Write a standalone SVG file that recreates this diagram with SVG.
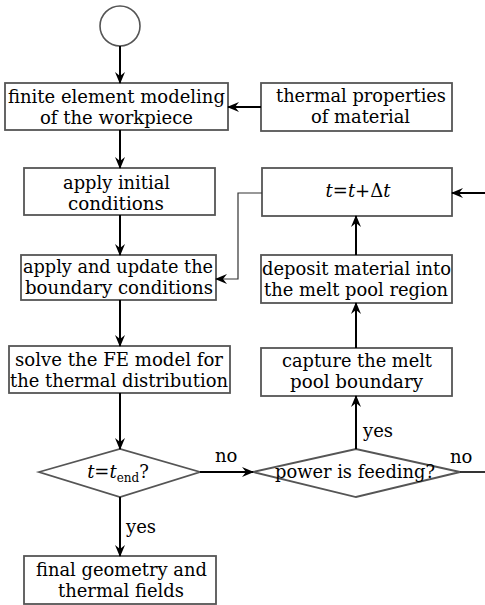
<svg xmlns="http://www.w3.org/2000/svg" width="485" height="605" viewBox="0 0 485 605">
<defs>
<marker id="ah" markerWidth="12" markerHeight="10" refX="11" refY="5" orient="auto" markerUnits="userSpaceOnUse">
<path d="M0,0 L12,5 L0,10 L4,5 z" fill="#000"/>
</marker>
</defs>
<style>
.box{fill:#fff;stroke:#555;stroke-width:1.8}
.t{font-family:"DejaVu Serif","Liberation Serif",serif;font-size:18px;fill:#000;text-anchor:middle}
.lbl{font-family:"DejaVu Serif","Liberation Serif",serif;font-size:18px;fill:#000}
.c{fill:none;stroke:#000;stroke-width:2;marker-end:url(#ah)}
.thin{fill:none;stroke:#333;stroke-width:1.2;marker-end:url(#ah)}
.plain{fill:none;stroke:#000;stroke-width:1.6}
</style>
<rect width="485" height="605" fill="#fff"/>
<g id="start"><circle cx="120" cy="26" r="20" fill="#fff" stroke="#555" stroke-width="1.6"/></g>
<g id="fem"><rect class="box" x="5" y="83" width="223" height="47"/>
<text class="t" x="116.5" y="102.5" textLength="217" lengthAdjust="spacingAndGlyphs">finite element modeling</text>
<text class="t" x="116.5" y="123.5" textLength="153" lengthAdjust="spacingAndGlyphs">of the workpiece</text></g>
<g id="thermal"><rect class="box" x="261" y="83" width="191" height="48"/>
<text class="t" x="361" y="102" textLength="170" lengthAdjust="spacingAndGlyphs">thermal properties</text>
<text class="t" x="360.5" y="123" textLength="99" lengthAdjust="spacingAndGlyphs">of material</text></g>
<g id="initial"><rect class="box" x="24" y="168" width="191" height="47"/>
<text class="t" x="116.5" y="188.5" textLength="107" lengthAdjust="spacingAndGlyphs">apply initial</text>
<text class="t" x="116" y="209.5" textLength="96" lengthAdjust="spacingAndGlyphs">conditions</text></g>
<g id="boundary"><rect class="box" x="21" y="255" width="195" height="45"/>
<text class="t" x="118" y="273" textLength="190" lengthAdjust="spacingAndGlyphs">apply and update the</text>
<text class="t" x="119" y="294" textLength="188" lengthAdjust="spacingAndGlyphs">boundary conditions</text></g>
<g id="solve"><rect class="box" x="9" y="346" width="221" height="47"/>
<text class="t" x="119" y="365.5" textLength="208" lengthAdjust="spacingAndGlyphs">solve the FE model for</text>
<text class="t" x="119" y="386.5" textLength="218" lengthAdjust="spacingAndGlyphs">the thermal distribution</text></g>
<g id="tend"><polygon class="box" points="39,472 120,449 200,472 120,497"/>
<text class="t" x="118" y="478"><tspan font-style="italic">t</tspan>=<tspan font-style="italic">t</tspan><tspan font-size="12" dy="4">end</tspan><tspan dy="-4">?</tspan></text></g>
<g id="final"><rect class="box" x="24" y="556" width="192" height="48"/>
<text class="t" x="121.5" y="575.5" textLength="171" lengthAdjust="spacingAndGlyphs">final geometry and</text>
<text class="t" x="121" y="596.5" textLength="126" lengthAdjust="spacingAndGlyphs">thermal fields</text></g>
<g id="tstep"><rect class="box" x="262" y="168" width="190" height="48"/>
<text class="t" x="358" y="197"><tspan font-style="italic">t</tspan>=<tspan font-style="italic">t</tspan>+Δ<tspan font-style="italic">t</tspan></text></g>
<g id="deposit"><rect class="box" x="261" y="255" width="191" height="48"/>
<text class="t" x="356.5" y="274.5" textLength="189" lengthAdjust="spacingAndGlyphs">deposit material into</text>
<text class="t" x="356" y="295.5" textLength="184" lengthAdjust="spacingAndGlyphs">the melt pool region</text></g>
<g id="capture"><rect class="box" x="261" y="348" width="191" height="48"/>
<text class="t" x="357" y="366.5" textLength="150" lengthAdjust="spacingAndGlyphs">capture the melt</text>
<text class="t" x="356.5" y="387.5" textLength="133" lengthAdjust="spacingAndGlyphs">pool boundary</text></g>
<g id="power"><polygon class="box" points="253,472 356,449 460,472 356,497"/>
<text class="t" x="355" y="478" textLength="160" lengthAdjust="spacingAndGlyphs">power is feeding?</text></g>
<g id="connectors">
<path class="c" d="M120,46 V83"/>
<path class="c" d="M120,130 V168"/>
<path class="c" d="M261,107 H228"/>
<path class="c" d="M120,215 V255"/>
<path class="c" d="M120,300 V346"/>
<path class="c" d="M120,393 V449"/>
<path class="c" d="M120,497 V556"/>
<path class="c" d="M200,472 H253"/>
<path class="c" d="M356,449 V396"/>
<path class="c" d="M356,348 V303"/>
<path class="c" d="M356,255 V216"/>
<path class="c" d="M485,193 H452"/>
<path class="thin" d="M262,193 H238 V279 H216"/>
<path class="plain" d="M460,472 H485"/>
<text class="lbl" x="126" y="533">yes</text>
<text class="lbl" x="215" y="462">no</text>
<text class="lbl" x="363" y="437">yes</text>
<text class="lbl" x="450" y="463">no</text>
</g>
</svg>
